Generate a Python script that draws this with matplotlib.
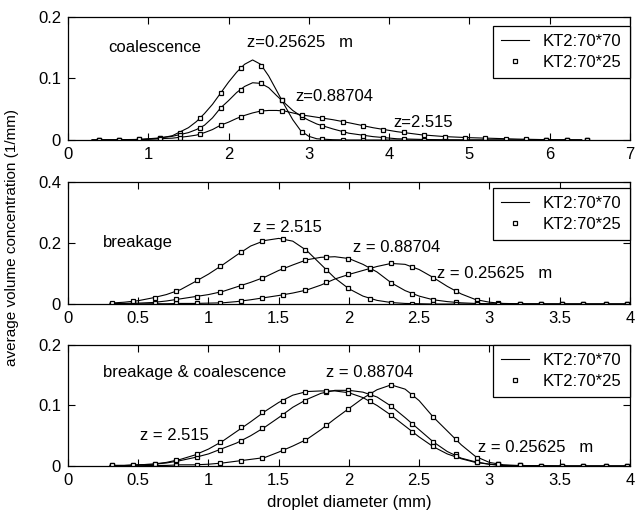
import matplotlib
matplotlib.use("Agg")
import matplotlib.pyplot as plt

plt.rcParams['font.family'] = ['Liberation Sans', 'DejaVu Sans']
plt.rcParams['font.size'] = 12

# marker positions (25 classes)
X25_TOP = [0.38, 0.63, 0.89, 1.14, 1.39, 1.65, 1.90, 2.15, 2.41, 2.66, 2.92, 3.17, 3.42,
           3.68, 3.93, 4.19, 4.44, 4.70, 4.95, 5.20, 5.46, 5.71, 5.96, 6.22, 6.47]
X25 = [0.31, 0.46, 0.62, 0.77, 0.92, 1.08, 1.23, 1.38, 1.53, 1.69, 1.84, 1.99, 2.15,
       2.30, 2.45, 2.60, 2.76, 2.91, 3.06, 3.22, 3.37, 3.52, 3.67, 3.83, 3.98]

# line positions (70 classes, read at a coarser step)
X70_TOP = [0.3, 0.6, 0.9, 1.1, 1.3, 1.5, 1.6, 1.7, 1.8, 1.9, 2.0, 2.1, 2.2, 2.3, 2.4, 2.5,
           2.6, 2.7, 2.8, 2.9, 3.0, 3.1, 3.3, 3.5, 3.8, 4.1, 4.4, 4.7, 5.0, 5.3, 5.6, 6.0, 6.4]
X70 = [0.3, 0.4, 0.5, 0.6, 0.7, 0.8, 0.9, 1.0, 1.1, 1.2, 1.3, 1.4, 1.5, 1.6, 1.7, 1.8, 1.9,
       2.0, 2.1, 2.2, 2.3, 2.4, 2.5, 2.6, 2.7, 2.8, 2.9, 3.0, 3.1, 3.2, 3.5, 4.0]

# coalescence
coal_line_z1 = [0, 0, 0.0005, 0.002, 0.007, 0.020, 0.030, 0.043, 0.058, 0.076, 0.094, 0.110,
                0.123, 0.130, 0.123, 0.104, 0.080, 0.056, 0.033, 0.015, 0.006, 0.002, 0.0005,
                0, 0, 0, 0, 0, 0, 0, 0, 0, 0]
coal_line_z2 = [0, 0, 0.001, 0.003, 0.006, 0.012, 0.017, 0.024, 0.036, 0.052, 0.064, 0.077,
                0.087, 0.093, 0.092, 0.085, 0.072, 0.060, 0.048, 0.039, 0.032, 0.026, 0.018,
                0.011, 0.0055, 0.002, 0.001, 0.0003, 0, 0, 0, 0, 0]
coal_line_z3 = [0.0002, 0.0005, 0.001, 0.002, 0.003, 0.006, 0.008, 0.012, 0.017, 0.024, 0.029,
                0.035, 0.040, 0.044, 0.047, 0.048, 0.048, 0.047, 0.044, 0.041, 0.039, 0.037,
                0.033, 0.028, 0.020, 0.0135, 0.0085, 0.0055, 0.0038, 0.0027, 0.0015, 0.0005,
                0.0001]
coal_mark_z1 = [0, 0, 0.0005, 0.003, 0.012, 0.036, 0.076, 0.117, 0.121, 0.065, 0.013, 0.001,
                0, 0, 0, 0, 0, 0, 0, 0, 0, 0, 0, 0, 0]
coal_mark_z2 = [0, 0, 0.001, 0.003, 0.008, 0.019, 0.052, 0.082, 0.092, 0.065, 0.037, 0.023,
                0.0135, 0.0065, 0.0035, 0.0015, 0.0008, 0.0003, 0, 0, 0, 0, 0, 0, 0]
coal_mark_z3 = [0.0003, 0.0005, 0.001, 0.002, 0.004, 0.0098, 0.024, 0.037, 0.047, 0.047, 0.041,
                0.035, 0.030, 0.023, 0.016, 0.0125, 0.008, 0.0055, 0.004, 0.003, 0.002, 0.001,
                0.0005, 0.0003, 0.0001]

# breakage
brk_line_z1 = [0, 0, 0.0005, 0.001, 0.001, 0.002, 0.002, 0.003, 0.004, 0.008, 0.014, 0.021,
               0.028, 0.036, 0.046, 0.062, 0.082, 0.097, 0.110, 0.123, 0.133, 0.130, 0.113,
               0.087, 0.058, 0.033, 0.015, 0.006, 0.002, 0.001, 0, 0]
brk_line_z2 = [0.001, 0.002, 0.003, 0.005, 0.010, 0.017, 0.024, 0.031, 0.041, 0.056, 0.071,
               0.088, 0.110, 0.128, 0.145, 0.153, 0.155, 0.149, 0.130, 0.105, 0.070, 0.044,
               0.026, 0.014, 0.008, 0.004, 0.002, 0.001, 0, 0, 0, 0]
brk_line_z3 = [0.003, 0.006, 0.011, 0.020, 0.031, 0.047, 0.072, 0.098, 0.128, 0.160, 0.190,
               0.208, 0.215, 0.206, 0.175, 0.130, 0.085, 0.050, 0.026, 0.012, 0.005, 0.002,
               0.001, 0, 0, 0, 0, 0, 0, 0, 0, 0]
brk_mark_z1 = [0, 0, 0.001, 0.002, 0.002, 0.004, 0.010, 0.020, 0.030, 0.046, 0.071, 0.097,
               0.116, 0.133, 0.122, 0.084, 0.044, 0.013, 0.003, 0.001, 0, 0, 0, 0, 0]
brk_mark_z2 = [0.001, 0.003, 0.005, 0.015, 0.024, 0.038, 0.058, 0.086, 0.118, 0.145, 0.154,
               0.149, 0.118, 0.068, 0.033, 0.013, 0.006, 0.002, 0.001, 0, 0, 0, 0, 0, 0]
brk_mark_z3 = [0.003, 0.009, 0.020, 0.042, 0.078, 0.123, 0.171, 0.205, 0.214, 0.178, 0.110,
               0.052, 0.016, 0.005, 0.001, 0, 0, 0, 0, 0, 0, 0, 0, 0, 0]

# breakage & coalescence
bc_line_z1 = [0, 0, 0.0005, 0.001, 0.001, 0.002, 0.002, 0.003, 0.005, 0.008, 0.011, 0.014,
              0.023, 0.033, 0.044, 0.060, 0.078, 0.095, 0.112, 0.126, 0.134, 0.127, 0.108,
              0.081, 0.058, 0.035, 0.016, 0.006, 0.002, 0.001, 0, 0]
bc_line_z2 = [0.001, 0.001, 0.002, 0.003, 0.005, 0.009, 0.014, 0.020, 0.029, 0.038, 0.050,
              0.064, 0.080, 0.097, 0.110, 0.120, 0.125, 0.125, 0.122, 0.114, 0.099, 0.080,
              0.060, 0.040, 0.024, 0.013, 0.007, 0.003, 0.001, 0.0005, 0, 0]
bc_line_z3 = [0.001, 0.001, 0.002, 0.003, 0.006, 0.011, 0.018, 0.028, 0.041, 0.057, 0.073,
              0.090, 0.105, 0.117, 0.123, 0.124, 0.124, 0.121, 0.113, 0.100, 0.084, 0.066,
              0.048, 0.032, 0.020, 0.012, 0.006, 0.003, 0.001, 0.0005, 0, 0]
bc_mark_z1 = [0, 0, 0.001, 0.002, 0.002, 0.005, 0.009, 0.013, 0.026, 0.043, 0.068, 0.095,
              0.119, 0.134, 0.117, 0.081, 0.045, 0.014, 0.003, 0.001, 0, 0, 0, 0, 0]
bc_mark_z2 = [0.001, 0.001, 0.003, 0.008, 0.015, 0.027, 0.042, 0.062, 0.085, 0.108, 0.122,
              0.125, 0.119, 0.099, 0.070, 0.040, 0.020, 0.007, 0.003, 0.001, 0, 0, 0, 0, 0]
bc_mark_z3 = [0.001, 0.001, 0.003, 0.010, 0.020, 0.040, 0.064, 0.089, 0.108, 0.123, 0.124,
              0.121, 0.107, 0.084, 0.057, 0.033, 0.017, 0.007, 0.003, 0.001, 0, 0, 0, 0, 0]

LEGEND_LABELS = ["KT2:70*70", "KT2:70*25"]


def draw_panel(ax, xl, lines, xm, marks, xlim, ylim, xticks, xticklabels, yticks, yticklabels,
               notes, legend_y):
    for i, (yl, ym) in enumerate(zip(lines, marks)):
        ax.plot(xl, yl, color="black", lw=0.8,
                label=LEGEND_LABELS[0] if i == 0 else None)
        ax.plot(xm, ym, ls="none", marker="s", ms=2.4, mfc="white", mec="black", mew=0.9,
                label=LEGEND_LABELS[1] if i == 0 else None)
    ax.set_xlim(*xlim)
    ax.set_ylim(*ylim)
    ax.set_xticks(xticks)
    ax.set_xticklabels(xticklabels)
    ax.set_yticks(yticks)
    ax.set_yticklabels(yticklabels)
    ax.tick_params(direction="in", top=True, right=True, length=5, width=0.8, pad=5)
    for s in ax.spines.values():
        s.set_linewidth(0.9)
    for tx, ty, txt in notes:
        ax.text(tx, ty, txt, ha="left", va="center")
    leg = ax.legend(loc="upper right", bbox_to_anchor=(1.0, legend_y), borderaxespad=0,
                    fancybox=False, framealpha=1, edgecolor="black", handlelength=1.7,
                    handletextpad=0.8, labelspacing=0.35, borderpad=0.5)
    leg.get_frame().set_linewidth(0.9)


fig = plt.figure(figsize=(6.42, 5.11), dpi=100)
ax1 = fig.add_axes([0.106, 0.726, 0.875, 0.241])
ax2 = fig.add_axes([0.106, 0.405, 0.875, 0.239])
ax3 = fig.add_axes([0.106, 0.088, 0.875, 0.237])

half_ticks = [0, 0.5, 1, 1.5, 2, 2.5, 3, 3.5, 4]
half_labels = ["0", "0.5", "1", "1.5", "2", "2.5", "3", "3.5", "4"]

draw_panel(ax1, X70_TOP, [coal_line_z1, coal_line_z2, coal_line_z3],
           X25_TOP, [coal_mark_z1, coal_mark_z2, coal_mark_z3],
           (0, 7), (0, 0.2), list(range(8)), [str(i) for i in range(8)],
           [0, 0.1, 0.2], ["0", "0.1", "0.2"],
           [(0.5, 0.150, "coalescence"), (2.23, 0.158, "z=0.25625   m"),
            (2.83, 0.070, "z=0.88704"), (4.05, 0.028, "z=2.515")], 0.927)

draw_panel(ax2, X70, [brk_line_z1, brk_line_z2, brk_line_z3],
           X25, [brk_mark_z1, brk_mark_z2, brk_mark_z3],
           (0, 4), (0, 0.4), half_ticks, half_labels,
           [0, 0.2, 0.4], ["0", "0.2", "0.4"],
           [(0.25, 0.20, "breakage"), (1.32, 0.252, "z = 2.515"),
            (2.03, 0.184, "z = 0.88704"), (2.63, 0.10, "z = 0.25625   m")], 0.951)

draw_panel(ax3, X70, [bc_line_z1, bc_line_z2, bc_line_z3],
           X25, [bc_mark_z1, bc_mark_z2, bc_mark_z3],
           (0, 4), (0, 0.2), half_ticks, half_labels,
           [0, 0.1, 0.2], ["0", "0.1", "0.2"],
           [(0.25, 0.154, "breakage & coalescence"), (0.51, 0.051, "z = 2.515"),
            (1.84, 0.154, "z = 0.88704"), (2.92, 0.030, "z = 0.25625   m")], 1.0)

ax3.set_xlabel("droplet diameter (mm)", labelpad=5)
fig.text(12 / 642, 1 - 237 / 511, "average volume concentration (1/mm)", rotation=90,
         ha="center", va="center", fontsize=11)

fig.savefig("out.png", dpi=100)
